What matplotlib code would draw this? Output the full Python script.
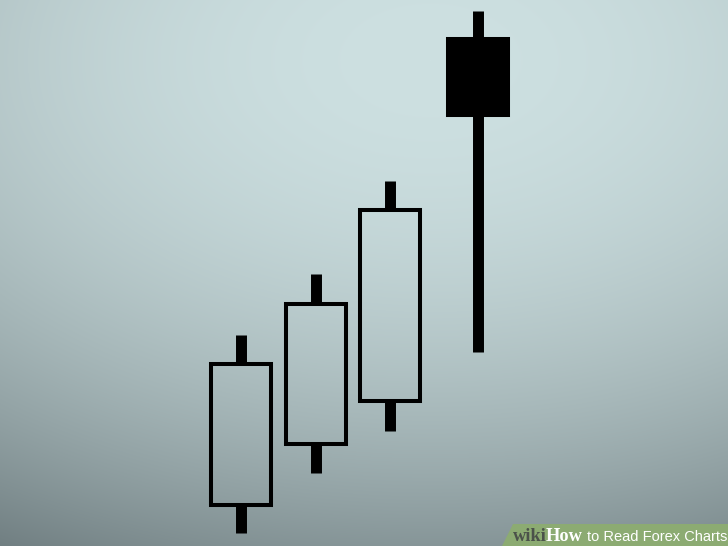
import numpy as np
import matplotlib
matplotlib.use("Agg")
from matplotlib import pyplot as plt
from matplotlib.patches import Polygon

# candle data (in picture units: 0 = bottom, 546 = top)
x_pos = [241, 316, 390, 478]
opens = [41, 102, 145, 507]
closes = [182, 242, 336, 431]
highs = [211, 272, 365, 535]
lows = [13, 73, 115, 194]

W, H = 728, 546
fig = plt.figure(figsize=(7.28, 5.46), dpi=100)
ax = fig.add_axes([0, 0, 1, 1])
ax.set_xlim(0, W)
ax.set_ylim(0, H)
ax.axis('off')

# background: soft elliptical gradient, light near the top middle
yy, xx = np.mgrid[0:H, 0:W]
d = np.sqrt((xx - 430) ** 2 + ((yy - 60) * 1.6) ** 2)
t = np.clip((d / 900.0) ** 2, 0, 1)[..., None]
c0 = np.array([205, 224, 225]) / 255
c1 = np.array([110, 124, 127]) / 255
bg = c0 + (c1 - c0) * t
ax.imshow(bg, extent=[0, W, 0, H], origin='upper', zorder=0, aspect='auto')

# wicks (only outside the body so hollow candles stay see-through)
for x, o, c, h, l in zip(x_pos, opens, closes, highs, lows):
    ax.vlines(x, max(o, c), h, color='black', lw=7.9, capstyle='butt', zorder=2)
    ax.vlines(x, l, min(o, c), color='black', lw=7.9, capstyle='butt', zorder=2)

# bodies
for x, o, c in zip(x_pos, opens, closes):
    up = c > o
    ax.bar(x, abs(c - o), bottom=min(o, c), width=60,
           facecolor='none' if up else 'black', edgecolor='black',
           linewidth=2.9, zorder=3)

# wikiHow banner
ax.add_patch(Polygon([[502, 0], [513, 22], [W, 22], [W, 0]], closed=True,
                     facecolor='#8cab72', edgecolor='none', zorder=4))

# pieces of the caption, laid out one after the other
pieces = [('wiki', '#4b524a', 'Liberation Serif', 'bold', 13.2, 0),
          ('How', 'white', 'Liberation Serif', 'bold', 13.2, -1),
          ('to Read Forex Charts', 'white', 'Liberation Sans', 'normal', 10.5, 4)]
fig.canvas.draw()
r = fig.canvas.get_renderer()
xcur = 513
for s, col, fam, wt, fs, gap in pieces:
    xcur += gap
    tx = ax.text(xcur, 5, s, fontsize=fs, fontweight=wt, family=fam,
                 color=col, ha='left', va='baseline', zorder=5)
    bb = tx.get_window_extent(renderer=r)
    xcur += bb.width

fig.savefig('out.png', dpi=100)
